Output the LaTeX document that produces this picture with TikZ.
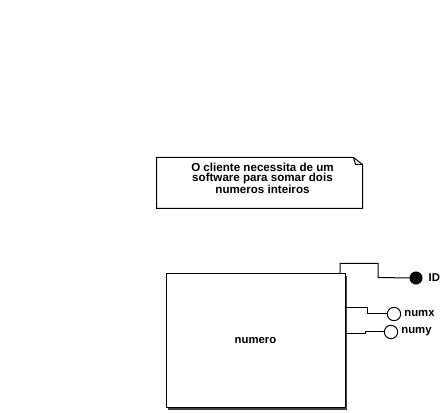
\documentclass[tikz,border=0pt]{standalone}
\usepackage{fontspec}
\setmainfont{Liberation Sans}
\usepackage{xcolor}
\usetikzlibrary{calc,positioning}

\begin{document}
\begin{tikzpicture}[x=0.75pt,y=-0.75pt,line width=0.75pt,
  every node/.style={font=\fontsize{8.5pt}{7.5pt}\selectfont\bfseries},
  entity/.style={draw,fill=white,minimum width=134.25pt,minimum height=100.5pt,inner sep=0pt},
  attrfill/.style={circle,draw,fill=black,minimum size=9pt,inner sep=0pt},
  attropen/.style={circle,draw,fill=white,minimum size=10pt,inner sep=0pt},
  attrname/.style={inner sep=0.5pt,anchor=west}]

\useasboundingbox (0,0) rectangle (447,413);

\pgfmathsetmacro{\FOLD}{9.0}

% note
\node (note) [minimum width=153.75pt,minimum height=37.5pt,inner sep=0pt] at (259.5,183) {};
\draw (note.north west) -- ($(note.north east)+(-\FOLD,0)$) -- ($(note.north east)+(0,7)$)
  -- (note.south east) -- (note.south west) -- cycle;
\draw ($(note.north east)+(-\FOLD,0)$) -- ($(note.north east)+(-\FOLD+2,7)$) -- ($(note.north east)+(0,7)$);
\node (notetext) [anchor=north,align=center,inner sep=0pt,font=\fontsize{8.7pt}{7.5pt}\selectfont\bfseries]
  at ($(note.north)+(3,5)$) {O cliente necessita de um\\software para somar dois\\numeros inteiros};

% entity with shadow
\fill[black!75] (168,276) rectangle (347,410);
\node (numero) [entity] at (255.5,341) {numero};

% attributes
\node (id) [attrfill] at (416,278) {};
\node (numx) [attropen] at (394,314) {};
\node (numy) [attropen] at (391,332) {};
\node (idlbl) [attrname] at ($(id.east)+(5,0)$) {ID};
\node (numxlbl) [attrname] at ($(numx.east)+(2,0)$) {numx};
\node (numylbl) [attrname] at ($(numy.east)+(2,0)$) {numy};

% connectors
\coordinate (idsrc) at (numero.north -| 340,0);
\coordinate (numxsrc) at (numero.east |- 0,308);
\coordinate (numysrc) at (numero.east |- 0,334);
\draw (idsrc) -- ++(0,-10) -| ($(idsrc)+(38,4)$) -- (id.west);
\draw (numxsrc) -- ++(22,0) |- (numx.west);
\draw (numysrc) -- ++(20,0) |- (numy.west);
\end{tikzpicture}
\end{document}
